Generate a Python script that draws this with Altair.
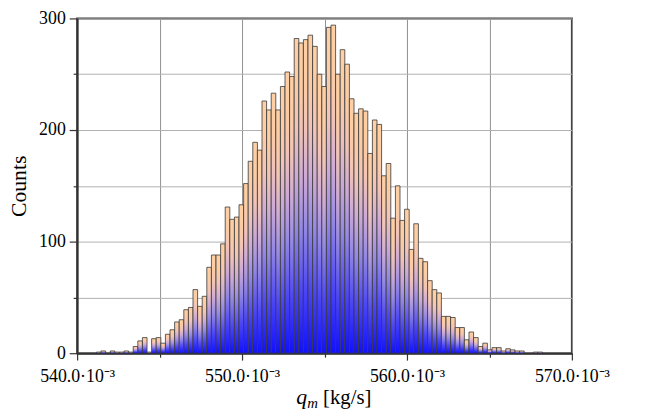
import altair as alt
import pandas as pd

# ---- data (x in units of 1e-3 kg/s) ----
bin_start = 541.17
bin_width = 0.2789
counts = [1, 2, 0, 2, 1, 1, 2, 1, 6, 11,
          14, 1, 13, 14, 9, 17, 21, 28, 30, 39,
          41, 57, 42, 51, 77, 88, 88, 98, 131, 120,
          122, 133, 152, 172, 189, 182, 226, 218, 233, 218,
          239, 252, 248, 282, 278, 281, 285, 275, 250, 239,
          292, 294, 250, 272, 259, 228, 215, 219, 217, 179,
          209, 205, 159, 170, 121, 150, 119, 129, 93, 116,
          85, 82, 65, 57, 54, 33, 33, 32, 23, 23,
          12, 19, 14, 6, 9, 3, 5, 5, 2, 4,
          3, 2, 2, 0, 0, 1, 1]
x_major = [540, 550, 560, 570]
x_minor = [545, 555, 565]
y_major = [0, 100, 200, 300]
y_minor = [50, 150, 250]
title_sym = "q"
title_sub = "m"
title_unit = "[kg/s]"
y_title = "Counts"

lo = [bin_start + i * bin_width for i in range(len(counts))]
df = pd.DataFrame({"lo": lo, "hi": [v + bin_width for v in lo], "count": counts})
df = df[df["count"] > 0]

W, H = 501, 339
FONT = "Liberation Serif"
xs = alt.Scale(domain=[540, 570], nice=False, zero=False)
ys = alt.Scale(domain=[0, 300], nice=False)

grad = {"gradient": "linear", "x1": 0, "x2": 0, "y1": 1, "y2": 0,
        "stops": [
            {"offset": 0.0, "color": "#1010ff"},
            {"offset": 0.2, "color": "#4c46f4"},
            {"offset": 0.4, "color": "#9488e4"},
            {"offset": 0.56, "color": "#cdaad6"},
            {"offset": 0.72, "color": "#f2c4b8"},
            {"offset": 0.86, "color": "#fccca4"},
            {"offset": 1.0, "color": "#ffd0a4"}]}

cx = dict(orient="bottom", grid=True, gridColor="#8f8f8f", gridWidth=1,
          domainColor="#333333", domainWidth=1.5, tickColor="#333333", tickWidth=1.2)
cy = dict(orient="left", grid=True, gridColor="#b0b0b0", gridWidth=1,
          domainColor="#333333", domainWidth=1.5, tickColor="#333333", tickWidth=1.2)

minor = alt.Chart(df).mark_bar(opacity=0).encode(
    x=alt.X("lo:Q", scale=xs, axis=alt.Axis(values=x_minor, labels=False, tickSize=4, title=None, **cx)),
    x2="hi",
    y=alt.Y("count:Q", scale=ys, axis=alt.Axis(values=y_minor, labels=False, tickSize=4, title=None, **cy)),
    y2=alt.datum(0),
)

bars = alt.Chart(df).mark_bar(fill=grad, stroke="#383838", strokeWidth=0.8).encode(
    x=alt.X("lo:Q", scale=xs, axis=alt.Axis(
        values=x_major, tickSize=7, title=None,
        labelExpr="format(datum.value, '.1f') + '·10⁻³'",
        labelFont=FONT, labelFontSize=18, labelColor="black", labelPadding=8,
        labelFlush=False, labelOverlap=False, **cx)),
    x2="hi",
    y=alt.Y("count:Q", scale=ys, axis=alt.Axis(
        values=y_major, tickSize=8, labelFont=FONT, labelFontSize=18, labelColor="black",
        labelPadding=4, labelFlush=False, labelOverlap=False,
        title=y_title, titleFont=FONT, titleFontSize=22,
        titleFontWeight="normal", titleColor="black", titlePadding=8, **cy)),
    y2=alt.datum(0),
)

def txt(s, x, y, size, style):
    return alt.Chart(pd.DataFrame({"t": [s]})).mark_text(
        font=FONT, fontSize=size, fontStyle=style, align="left", baseline="alphabetic", color="black"
    ).encode(x=alt.value(x), y=alt.value(y), text="t:N")

t1 = txt(title_sym, 222, 390, 22, "italic")
t2 = txt(title_sub, 233, 394, 15, "italic")
t3 = txt(title_unit, 249, 390, 21, "normal")

chart = alt.layer(minor, bars, t1, t2, t3).resolve_axis(
    x="independent", y="independent"
).properties(
    width=W, height=H,
    padding={"left": 70, "top": 8, "right": 71, "bottom": 60},
    autosize=alt.AutoSizeParams(type="none"),
).configure_view(stroke="#3c3c3c", strokeWidth=2)

chart.save("out.html", embed_options={"renderer": "svg", "actions": False})
